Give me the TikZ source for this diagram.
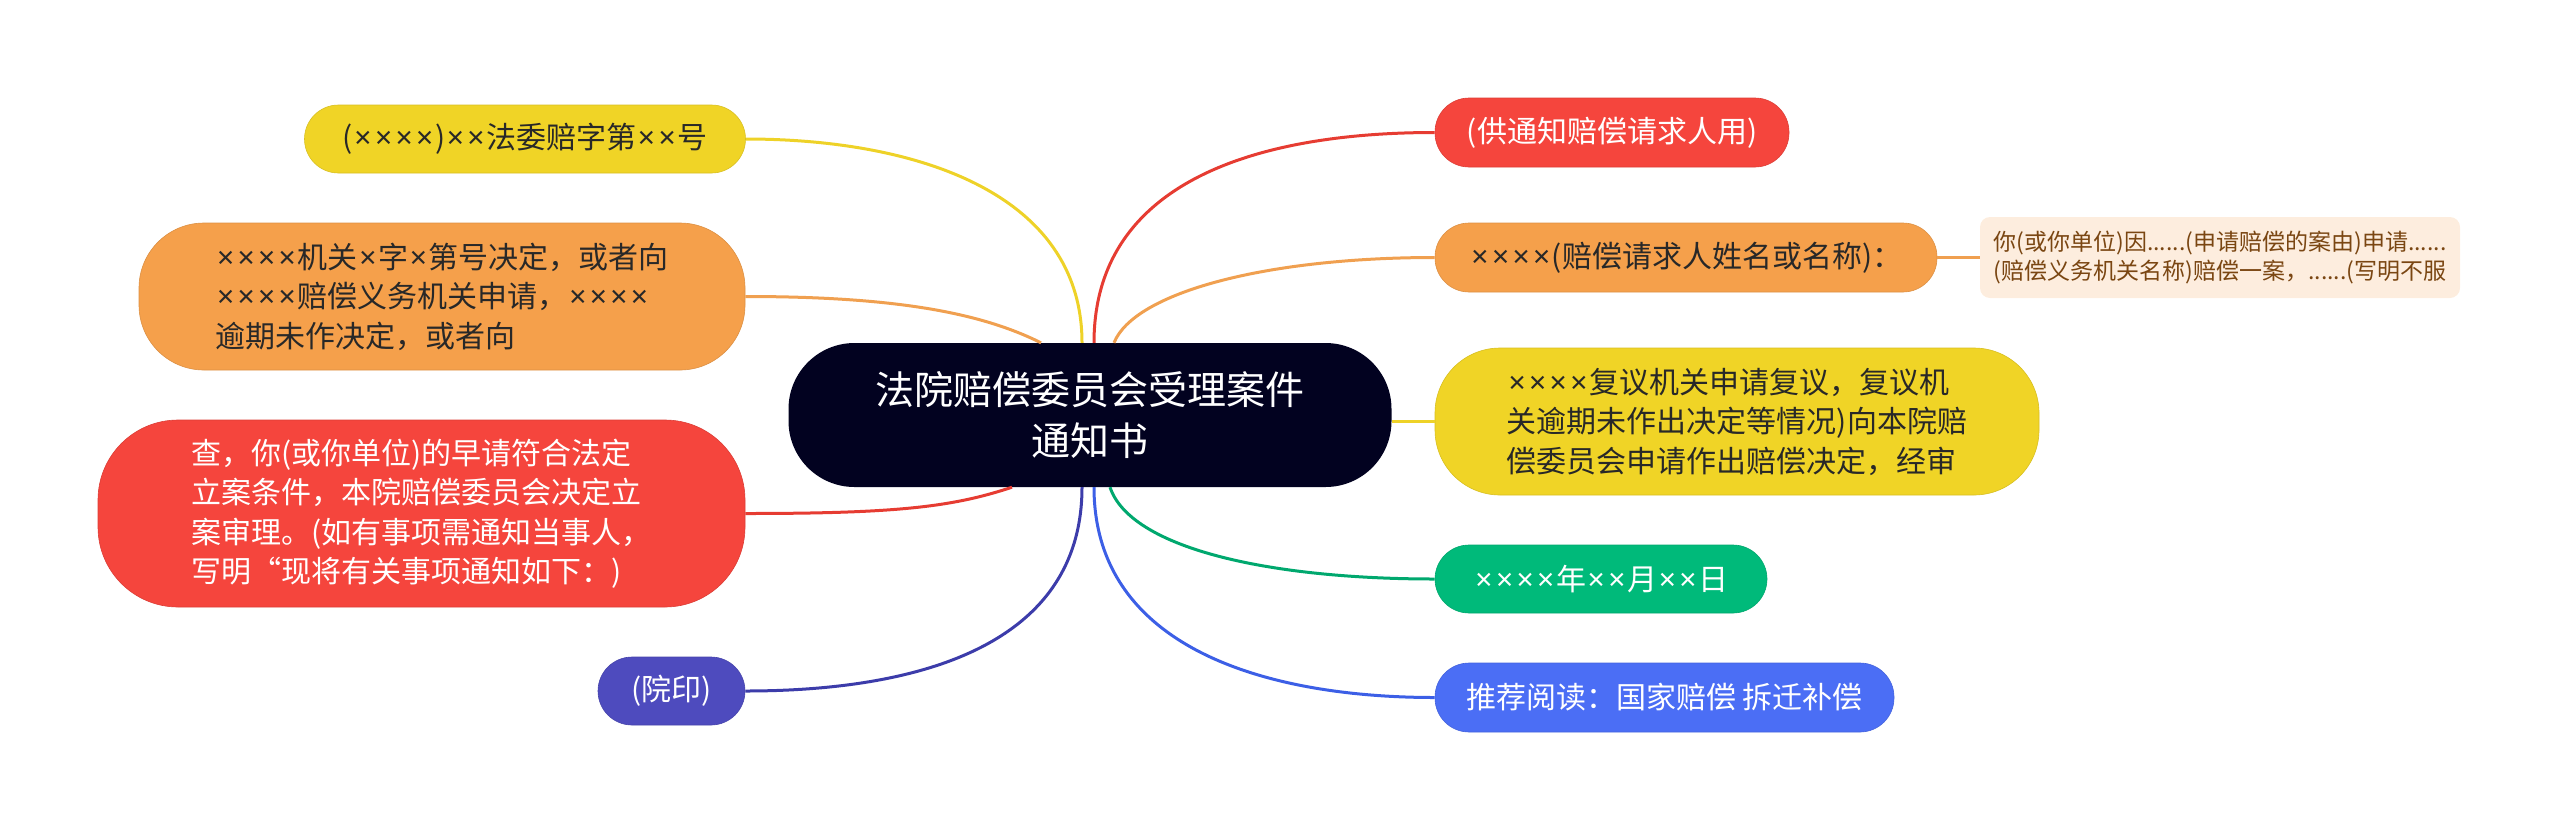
\documentclass[tikz,border=0pt]{standalone}
\usepackage{fontspec}
\setmainfont{Noto Sans CJK SC}
\newfontfamily\latinf{Noto Sans}
\newcommand\mx{{\latinf\kern1.7pt×\kern1.7pt}}
\definecolor{cyel}{RGB}{240,212,38}
\definecolor{cora}{RGB}{245,160,75}
\definecolor{cred}{RGB}{245,69,61}
\definecolor{cpur}{RGB}{78,75,190}
\definecolor{cgrn}{RGB}{0,186,122}
\definecolor{cblu}{RGB}{75,110,245}
\definecolor{cnav}{RGB}{2,2,32}
\definecolor{cleaf}{RGB}{253,237,222}
\definecolor{cleaftxt}{RGB}{122,70,18}
\definecolor{ctxt}{RGB}{40,40,40}
\definecolor{lyel}{RGB}{238,210,40}
\definecolor{lora}{RGB}{240,160,80}
\definecolor{lred}{RGB}{230,60,50}
\definecolor{lpur}{RGB}{60,60,170}
\definecolor{lgrn}{RGB}{0,168,110}
\definecolor{lblu}{RGB}{60,95,230}
\tikzset{
  box/.style={rounded corners=#1, inner sep=0pt, align=left,
    font=\fontsize{30}{39.5}\selectfont},
  box/.default=34,
  conn/.style={line width=3pt},
}
\begin{document}
\begin{tikzpicture}[x=1pt,y=-1pt]
\useasboundingbox (0,0) rectangle (2560,831);
% central
\node[rounded corners=66, inner sep=0pt, fill=cnav, text=white, align=center,
  minimum width=603, minimum height=144,
  font=\fontsize{39}{51}\selectfont] (c) at (1090,415)
  {法院赔偿委员会受理案件\\通知书};
% left
\node[box, fill=cyel, draw=cyel!90!black, line width=0.6pt, text=ctxt,
  minimum width=441, minimum height=68] (l1) at (525,139)
  {(\mx\mx\mx\mx)\mx\mx 法委赔字第\mx\mx 号};
\node[box=65, fill=cora, draw=cora!90!black, line width=0.6pt, text=ctxt,
  minimum width=606, minimum height=147] (l2) at (442,296.5)
  {\mx\mx\mx\mx 机关\mx 字\mx 第号决定，或者向\\\mx\mx\mx\mx 赔偿义务机关申请，\mx\mx\mx\mx\\逾期未作决定，或者向};
\node[box=80, fill=cred, draw=cred!90!black, line width=0.6pt, text=white,
  minimum width=647, minimum height=187] (l3) at (421.5,513.5)
  {查，你(或你单位)的早请符合法定\\立案条件，本院赔偿委员会决定立\\案审理。(如有事项需通知当事人，\\写明“现将有关事项通知如下：)};
\node[box, fill=cpur, draw=cpur!90!black, line width=0.6pt, text=white,
  minimum width=147, minimum height=68] (l4) at (671.5,691)
  {(院印)};
% right
\node[box, fill=cred, draw=cred!90!black, line width=0.6pt, text=white,
  minimum width=354, minimum height=69] (r1) at (1612,132.5)
  {(供通知赔偿请求人用)};
\node[box, fill=cora, draw=cora!90!black, line width=0.6pt, text=ctxt,
  minimum width=502, minimum height=69] (r2) at (1686,257.5)
  {\mx\mx\mx\mx(赔偿请求人姓名或名称)：};
\node[box=10, fill=cleaf, text=cleaftxt, align=center,
  font=\fontsize{23}{29}\selectfont,
  minimum width=480, minimum height=81] (leaf) at (2220,257.5)
  {你(或你单位)因......(申请赔偿的案由)申请......\\(赔偿义务机关名称)赔偿一案，......(写明不服};
\node[box=65, fill=cyel, draw=cyel!90!black, line width=0.6pt, text=ctxt,
  minimum width=604, minimum height=147] (r3) at (1737,421.5)
  {\mx\mx\mx\mx 复议机关申请复议，复议机\\关逾期未作出决定等情况)向本院赔\\偿委员会申请作出赔偿决定，经审};
\node[box, fill=cgrn, draw=cgrn!90!black, line width=0.6pt, text=white,
  minimum width=332, minimum height=68] (r4) at (1601,579)
  {\mx\mx\mx\mx 年\mx\mx 月\mx\mx 日};
\node[box, fill=cblu, draw=cblu!90!black, line width=0.6pt, text=white,
  minimum width=459, minimum height=69] (r5) at (1664.5,697.5)
  {推荐阅读：国家赔偿 拆迁补偿};
% connectors
\draw[conn, lyel] ([xshift=-8pt]c.north) .. controls +(0,-150) and +(170,0) .. (l1.east);
\draw[conn, lora] ([xshift=-49pt]c.north) .. controls +(-60,-30) and +(150,0) .. (l2.east);
\draw[conn, lred] ([xshift=4pt]c.north) .. controls +(0,-160) and +(-180,0) .. (r1.west);
\draw[conn, lora] ([xshift=24pt]c.north) .. controls +(20,-50) and +(-170,0) .. (r2.west);
\draw[conn, lred] ([xshift=-78pt]c.south) .. controls +(-60,20) and +(150,0) .. (l3.east);
\draw[conn, lpur] ([xshift=-8pt]c.south) .. controls +(0,160) and +(170,0) .. (l4.east);
\draw[conn, lblu] ([xshift=4pt]c.south) .. controls +(0,160) and +(-170,0) .. (r5.west);
\draw[conn, lgrn] ([xshift=20pt]c.south) .. controls +(20,60) and +(-170,0) .. (r4.west);
\draw[conn, lyel] (c.east |- r3.west) -- (r3.west);
\draw[conn, lora] (r2.east) -- (leaf.west);
\end{tikzpicture}
\end{document}
